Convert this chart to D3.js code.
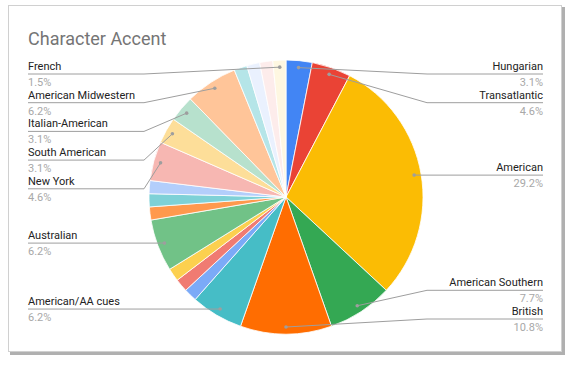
<!DOCTYPE html>
<html>
<head>
<meta charset="utf-8">
<script src="https://cdn.jsdelivr.net/npm/d3@7"></script>
<style>
  html, body { margin: 0; padding: 0; background: #fff; }
  svg { display: block; }
</style>
</head>
<body>
<svg id="chart" width="573" height="365"></svg>
<script>
// ---- Data ----
const title = "Character Accent";
const categories = [
  "Hungarian", "Transatlantic", "American", "American Southern", "British",
  "American/AA cues", "Unlabeled 1", "Unlabeled 2", "Unlabeled 3", "Australian",
  "Unlabeled 4", "Unlabeled 5", "Unlabeled 6", "New York", "South American",
  "Italian-American", "American Midwestern", "Unlabeled 7", "Unlabeled 8", "Unlabeled 9",
  "French"
];
const values = [2, 3, 19, 5, 7, 4, 1, 1, 1, 4, 1, 1, 1, 3, 2, 2, 4, 1, 1, 1, 1];
const showLabel = [true, true, true, true, true, true, false, false, false, true,
  false, false, false, true, true, true, true, false, false, false, true];

// ---- Style ----
const palette = [
  "#4285F4", "#EA4335", "#FBBC04", "#34A853", "#FF6D01", "#46BDC6",
  "#7BAAF7", "#F07B72", "#FCD04F", "#71C287", "#FF994D", "#7ED1D7",
  "#B3CEFB", "#F7B7B2", "#FDDE99", "#B7E1CD", "#FFC599", "#B5E5E8",
  "#EAF1FE", "#FDECEB", "#FEF7E1"
];

const svg = d3.select("#chart");

// frame with shadow
svg.append("rect").attr("x", 10).attr("y", 7).attr("width", 555).attr("height", 348)
  .attr("fill", "#b0b0b0");
svg.append("rect").attr("x", 8.5).attr("y", 5.5).attr("width", 553).attr("height", 346)
  .attr("fill", "#fff").attr("stroke", "#d0d0d0").attr("stroke-width", 1);

svg.append("text").attr("x", 28).attr("y", 45)
  .attr("font-family", "Roboto, Arial, sans-serif").attr("font-size", 18)
  .attr("fill", "#757575").text(title);

const cx = 286, cy = 197, R = 137;
const g = svg.append("g").attr("transform", `translate(${cx},${cy})`);

const total = d3.sum(values);
const data = categories.map((c, i) => ({ name: c, value: values[i], show: showLabel[i], i }));
const pie = d3.pie().value(d => d.value).sort(null).startAngle(0).endAngle(2 * Math.PI);
const arcs = pie(data);
const arc = d3.arc().innerRadius(0).outerRadius(R);
const dotArc = d3.arc().innerRadius(R - 7).outerRadius(R - 7);

g.selectAll("path.slice").data(arcs).enter().append("path")
  .attr("class", "slice")
  .attr("d", arc)
  .attr("fill", d => palette[d.data.i % palette.length])
  .attr("stroke", "#fff").attr("stroke-width", 0.8);

// ---- Labels ----
const labeled = arcs.filter(d => d.data.show).map(d => {
  const [x, y] = dotArc.centroid(d);
  const mid = (d.startAngle + d.endAngle) / 2;
  return { d, dx: x + cx, dy: y + cy, side: mid <= Math.PI + 1e-6 ? "right" : "left" };
});

const minY = 74, maxY = 319, gap = 28.7;
["left", "right"].forEach(side => {
  const items = labeled.filter(l => l.side === side).sort((a, b) => a.dy - b.dy);
  items.forEach(l => { l.ly = Math.max(minY, Math.min(maxY, l.dy)); });
  for (let k = 1; k < items.length; k++)
    if (items[k].ly < items[k - 1].ly + gap) items[k].ly = items[k - 1].ly + gap;
  if (items.length && items[items.length - 1].ly > maxY) items[items.length - 1].ly = maxY;
  for (let k = items.length - 2; k >= 0; k--)
    if (items[k].ly > items[k + 1].ly - gap) items[k].ly = items[k + 1].ly - gap;
});

const leftX = 28, leftElbow = 144, rightX = 543, rightElbow = 427;
const lg = svg.append("g");
labeled.forEach(l => {
  const left = l.side === "left";
  const outer = left ? leftX : rightX;
  const elbow = left ? leftElbow : rightElbow;
  lg.append("polyline")
    .attr("points", `${outer},${l.ly} ${elbow},${l.ly} ${l.dx},${l.dy}`)
    .attr("fill", "none").attr("stroke", "#9e9e9e").attr("stroke-width", 1);
  lg.append("circle").attr("cx", l.dx).attr("cy", l.dy).attr("r", 1.8).attr("fill", "#9e9e9e");
  lg.append("text").attr("x", outer).attr("y", l.ly - 4)
    .attr("text-anchor", left ? "start" : "end")
    .attr("font-family", "Roboto, Arial, sans-serif").attr("font-size", 11)
    .attr("fill", "#222").text(l.d.data.name);
  lg.append("text").attr("x", outer).attr("y", l.ly + 12)
    .attr("text-anchor", left ? "start" : "end")
    .attr("font-family", "Roboto, Arial, sans-serif").attr("font-size", 11)
    .attr("fill", "#a8a8a8").text((l.d.data.value / total * 100).toFixed(1) + "%");
});
</script>
</body>
</html>
